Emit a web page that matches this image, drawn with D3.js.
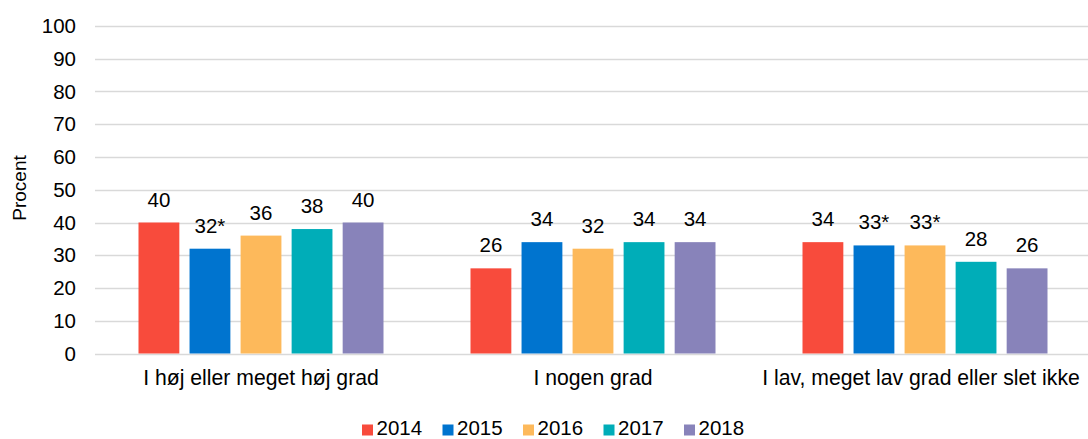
<!DOCTYPE html>
<html lang="en">
<head>
    <meta charset="UTF-8">
    <title>Procent</title>
    <script src="https://d3js.org/d3.v7.min.js"></script>
    <style>
        body { margin: 0; background: #fff; }
        svg { display: block; font-family: "Liberation Sans", Arial, sans-serif; }
    </style>
</head>
<body>
    <div id="chart"></div>
    <script>
        // Data
        const categories = ["I høj eller meget høj grad", "I nogen grad", "I lav, meget lav grad eller slet ikke"];
        const years = ["2014", "2015", "2016", "2017", "2018"];
        const values = {
            "2014": [40, 26, 34],
            "2015": [32, 34, 33],
            "2016": [36, 32, 33],
            "2017": [38, 34, 28],
            "2018": [40, 34, 26]
        };
        const labels = {
            "2014": ["40", "26", "34"],
            "2015": ["32*", "34", "33*"],
            "2016": ["36", "32", "33*"],
            "2017": ["38", "34", "28"],
            "2018": ["40", "34", "26"]
        };
        const colors = ["#F84B3C", "#0074CF", "#FDB95B", "#00ADB8", "#8883BA"];
        const yTicks = [0, 10, 20, 30, 40, 50, 60, 70, 80, 90, 100];

        const W = 1088, H = 439;
        const plot = {left: 95, right: 1091, top: 26, bottom: 353.5};
        const fs = 20.5;

        const svg = d3.select("#chart")
            .append("svg")
            .attr("width", W)
            .attr("height", H);

        // Scales
        const x0 = d3.scaleBand()
            .domain(categories)
            .range([plot.left, plot.right])
            .padding(0);

        const x1 = d3.scaleBand()
            .domain(years)
            .range([43.5, x0.bandwidth() - 43.5])
            .paddingInner(0.2);

        const y = d3.scaleLinear()
            .domain([0, 100])
            .range([plot.bottom, plot.top]);

        const color = d3.scaleOrdinal().domain(years).range(colors);

        // Gridlines
        svg.append("g")
            .selectAll("line")
            .data(yTicks)
            .enter().append("line")
            .attr("x1", plot.left)
            .attr("x2", W)
            .attr("y1", d => Math.round(y(d)) + 0.5)
            .attr("y2", d => Math.round(y(d)) + 0.5)
            .attr("stroke", "#d9d9d9")
            .attr("stroke-width", 1.3);

        // Y axis labels
        const yAxis = svg.append("g")
            .attr("transform", `translate(${plot.left - 19},0)`)
            .call(d3.axisLeft(y).tickValues(yTicks).tickSize(0).tickPadding(0));
        yAxis.select(".domain").remove();
        yAxis.selectAll("text")
            .attr("font-size", fs)
            .attr("font-family", "Liberation Sans, Arial, sans-serif")
            .attr("fill", "#000");

        svg.append("text")
            .attr("transform", `translate(26,188) rotate(-90)`)
            .attr("text-anchor", "middle")
            .attr("font-size", 19)
            .text("Procent");

        // Bars
        const rows = [];
        categories.forEach((c, i) => {
            years.forEach(yr => rows.push({cat: c, year: yr, v: values[yr][i], label: labels[yr][i]}));
        });

        const groups = svg.append("g");
        groups.selectAll("rect")
            .data(rows)
            .enter().append("rect")
            .attr("x", d => x0(d.cat) + x1(d.year))
            .attr("y", d => y(d.v))
            .attr("width", x1.bandwidth())
            .attr("height", d => y(0) - y(d.v))
            .attr("fill", d => color(d.year));

        groups.selectAll("text")
            .data(rows)
            .enter().append("text")
            .attr("x", d => x0(d.cat) + x1(d.year) + x1.bandwidth() / 2)
            .attr("y", d => y(d.v) - 16)
            .attr("text-anchor", "middle")
            .attr("font-size", fs)
            .text(d => d.label);

        // Category labels
        svg.append("g")
            .selectAll("text")
            .data(categories)
            .enter().append("text")
            .attr("x", (d, i) => x0(d) + x0.bandwidth() / 2 - (i === 2 ? 4 : 0))
            .attr("y", 385)
            .attr("text-anchor", "middle")
            .attr("font-size", 21.2)
            .text(d => d);

        // Legend
        const legend = svg.append("g")
            .selectAll("g")
            .data(years)
            .enter().append("g")
            .attr("transform", (d, i) => `translate(${362 + i * 80.5},0)`);
        legend.append("rect")
            .attr("x", 0)
            .attr("y", 424.5)
            .attr("width", 11)
            .attr("height", 11)
            .attr("fill", d => color(d));
        legend.append("text")
            .attr("x", 14.5)
            .attr("y", 435)
            .attr("font-size", fs)
            .text(d => d);
    </script>
</body>
</html>
